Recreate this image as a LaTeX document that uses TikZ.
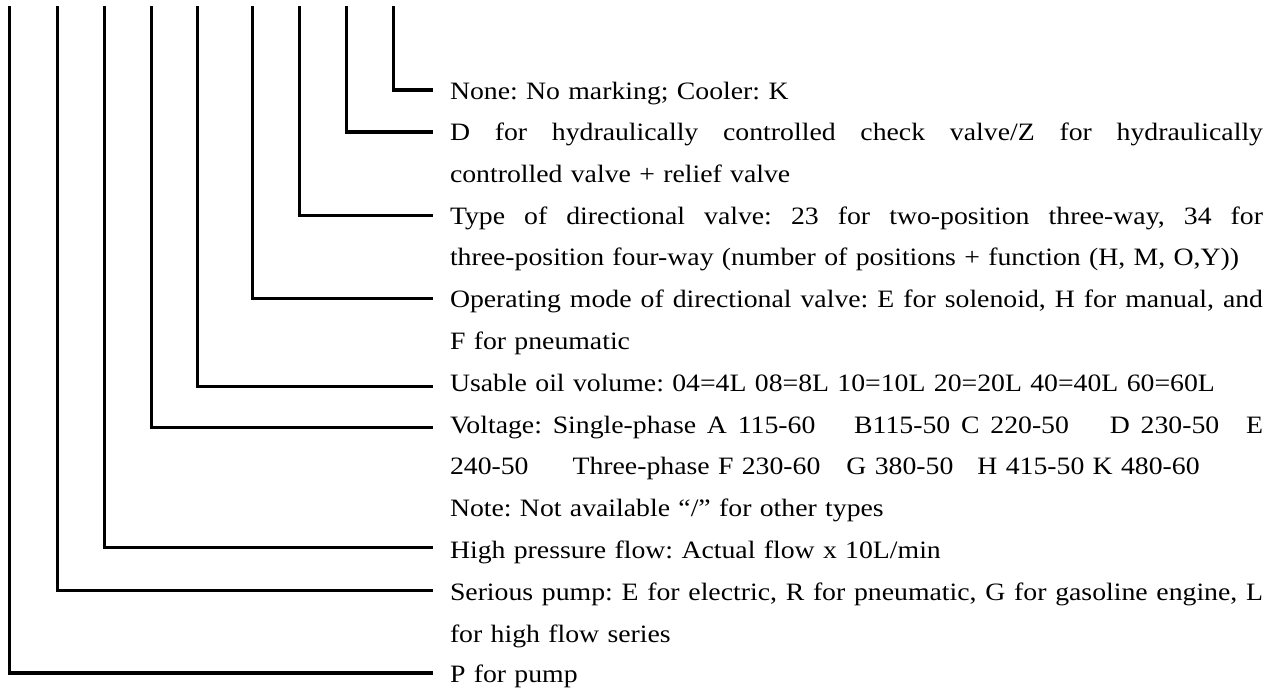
\documentclass[tikz,border=0pt]{standalone}
\usepackage{fontspec}
\setmainfont{Liberation Serif}[FakeStretch=1.11]
\newcommand{\JustLine}[1]{\makebox[813pt][s]{\spaceskip=0.25em plus 1fil\relax #1}}
\begin{document}
\begin{tikzpicture}[x=1pt,y=-1pt,
  conn/.style={line width=3.2pt,line join=miter},
  txt/.style={anchor=base west,inner sep=0pt,outer sep=0pt,text width=813pt,align=left,
    font=\fontsize{25}{41.6}\selectfont\frenchspacing}]
\useasboundingbox (0,0) rectangle (1280,691);

% top ends of the leader lines
\coordinate (t1) at (9.5,6);
\coordinate (t2) at (57.3,6);
\coordinate (t3) at (104.5,6);
\coordinate (t4) at (151.5,6);
\coordinate (t5) at (197.5,6);
\coordinate (t6) at (252.3,6);
\coordinate (t7) at (299.3,6);
\coordinate (t8) at (346.7,6);
\coordinate (t9) at (393.5,6);

% right ends of the leader lines
\coordinate (e1) at (433,673);
\coordinate (e2) at (433,590.7);
\coordinate (e3) at (433,547.7);
\coordinate (e4) at (433,427.7);
\coordinate (e5) at (433,386.7);
\coordinate (e6) at (433,298.3);
\coordinate (e7) at (433,215.5);
\coordinate (e8) at (433,132);
\coordinate (e9) at (433,90);

% texts
\node[txt] (n9) at (450,99) {None: No marking; Cooler: K};
\node[txt] (n8) at (450,140.6) {\JustLine{D for hydraulically controlled check valve/Z for hydraulically}\\controlled valve + relief valve};
\node[txt] (n7) at (450,224.2) {\JustLine{Type of directional valve: 23 for two-position three-way, 34 for}\\three-position four-way (number of positions + function (H, M, O,Y))};
\node[txt] (n6) at (450,307.8) {\JustLine{Operating mode of directional valve: E for solenoid, H for manual, and}\\F for pneumatic};
\node[txt] (n5) at (450,391.4) {Usable oil volume: 04=4L 08=8L 10=10L 20=20L 40=40L 60=60L};
\node[txt] (n4) at (450,433.2) {\JustLine{Voltage: Single-phase A 115-60\hspace{28pt} B115-50 C 220-50\hspace{30pt} D 230-50\hspace{16pt} E}\\240-50\hspace{44pt}Three-phase F 230-60\hspace{26pt}G 380-50\hspace{24pt}H 415-50 K 480-60\\Note: Not available “/” for other types};
\node[txt] (n3) at (450,558.6) {High pressure flow: Actual flow x 10L/min};
\node[txt] (n2) at (450,600.4) {\JustLine{Serious pump: E for electric, R for pneumatic, G for gasoline engine, L}\\for high flow series};
\node[txt] (n1) at (450,682.2) {P for pump};

% leader lines
\draw[conn] (t1) |- (e1);
\draw[conn] (t2) |- (e2);
\draw[conn] (t3) |- (e3);
\draw[conn] (t4) |- (e4);
\draw[conn] (t5) |- (e5);
\draw[conn] (t6) |- (e6);
\draw[conn] (t7) |- (e7);
\draw[conn] (t8) |- (e8);
\draw[conn] (t9) |- (e9);
\end{tikzpicture}
\end{document}
